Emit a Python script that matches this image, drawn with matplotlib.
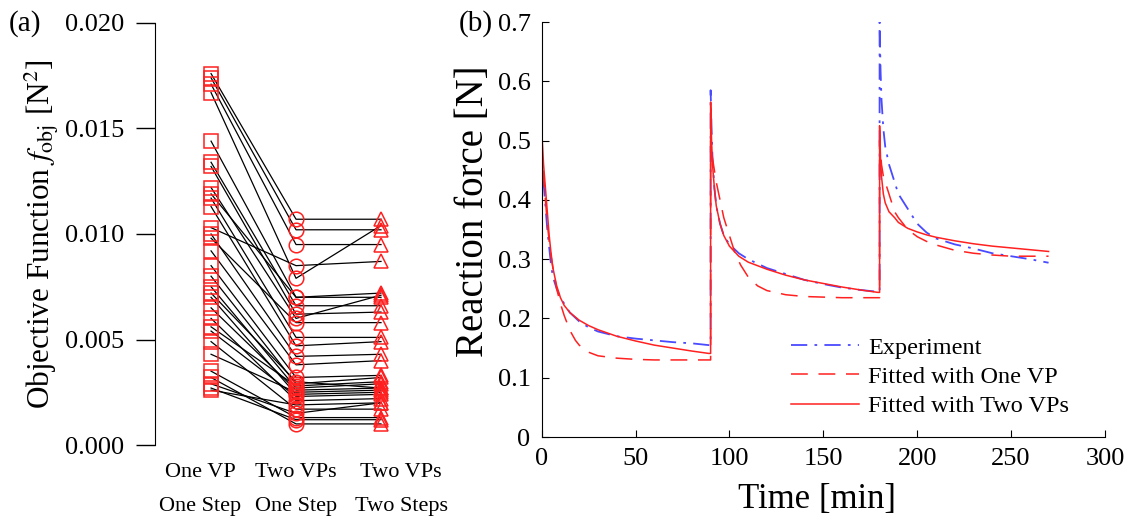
import numpy as np
import matplotlib.pyplot as plt
from matplotlib.transforms import ScaledTranslation

plt.rcParams['font.family'] = ['Liberation Serif', 'DejaVu Serif']
plt.rcParams['mathtext.fontset'] = 'stix'

# (a) objective function of each specimen for the three fitting schemes
cases = ['One VP\nOne Step', 'Two VPs\nOne Step', 'Two VPs\nTwo Steps']
one_vp_one_step = [0.0176, 0.0174, 0.0171, 0.0167, 0.0144, 0.0134, 0.0132, 0.0122,
                   0.0119, 0.0117, 0.0113, 0.0103, 0.0100, 0.0098, 0.0092, 0.0085,
                   0.0080, 0.0075, 0.0072, 0.0070, 0.0065, 0.0060, 0.0056, 0.0054,
                   0.0049, 0.0043, 0.0035, 0.0032, 0.0029, 0.0027, 0.0026]
two_vps_one_step = [0.0107, 0.0102, 0.0095, 0.0079, 0.0070, 0.0066, 0.0062, 0.0060,
                    0.0070, 0.0051, 0.0047, 0.0085, 0.0042, 0.0058, 0.0038, 0.0032,
                    0.0029, 0.0027, 0.0030, 0.0024, 0.0026, 0.0021, 0.0028, 0.0023,
                    0.0017, 0.0025, 0.0013, 0.0010, 0.0015, 0.0012, 0.0019]
two_vps_two_steps = [0.0107, 0.0102, 0.0095, 0.0104, 0.0070, 0.0066, 0.0063, 0.0071,
                     0.0072, 0.0051, 0.0049, 0.0087, 0.0043, 0.0058, 0.0040, 0.0033,
                     0.0032, 0.0029, 0.0027, 0.0025, 0.0027, 0.0022, 0.0030, 0.0024,
                     0.0017, 0.0026, 0.0013, 0.0010, 0.0020, 0.0012, 0.0020]

# (b) reaction force histories
exp_t = [0, 0, 0.5, 1, 2, 3, 4, 5, 6, 8, 10, 12, 15, 20, 25, 30, 40, 50, 60, 70, 80, 89,
         90, 90, 90.5, 91, 92, 93, 95, 97, 100, 105, 110, 120, 130, 140, 150, 160, 170, 179,
         180, 180, 180.5, 181, 182, 183, 185, 188, 190, 195, 200, 205, 210, 220, 230, 240,
         250, 260, 270]
exp_f = [0, 0.47, 0.45, 0.43, 0.39, 0.35, 0.32, 0.29, 0.27, 0.25, 0.235, 0.225, 0.21,
         0.195, 0.185, 0.178, 0.170, 0.166, 0.163, 0.160, 0.158, 0.155,
         0.155, 0.585, 0.52, 0.47, 0.42, 0.39, 0.36, 0.34, 0.325, 0.31, 0.30, 0.285, 0.275,
         0.265, 0.258, 0.252, 0.248, 0.245,
         0.245, 0.70, 0.62, 0.57, 0.52, 0.49, 0.46, 0.43, 0.41, 0.385, 0.36, 0.345, 0.335,
         0.325, 0.318, 0.31, 0.305, 0.30, 0.294]

one_t = [0, 0, 1, 2, 3, 4, 5, 6, 8, 10, 12, 15, 18, 20, 25, 30, 40, 50, 60, 70, 80, 89,
         90, 90, 91, 92, 93, 95, 97, 100, 103, 106, 110, 115, 120, 130, 140, 150, 160, 170,
         179, 180, 180, 181, 182, 183, 185, 188, 190, 195, 200, 205, 210, 220, 230, 240,
         250, 260, 270]
one_f = [0, 0.48, 0.44, 0.40, 0.36, 0.33, 0.305, 0.285, 0.25, 0.225, 0.205, 0.18, 0.163,
         0.155, 0.143, 0.137, 0.133, 0.131, 0.130, 0.130, 0.130, 0.130,
         0.130, 0.50, 0.47, 0.45, 0.43, 0.40, 0.37, 0.34, 0.31, 0.29, 0.27, 0.255, 0.247,
         0.24, 0.237, 0.236, 0.235, 0.235, 0.235,
         0.235, 0.50, 0.46, 0.44, 0.43, 0.41, 0.38, 0.37, 0.35, 0.338, 0.33, 0.324, 0.315,
         0.31, 0.307, 0.305, 0.305, 0.305]

two_t = exp_t
two_f = [0, 0.52, 0.49, 0.46, 0.42, 0.38, 0.34, 0.31, 0.285, 0.255, 0.235, 0.222, 0.21,
         0.197, 0.188, 0.181, 0.170, 0.162, 0.155, 0.150, 0.145, 0.141,
         0.141, 0.565, 0.50, 0.46, 0.42, 0.39, 0.36, 0.34, 0.322, 0.305, 0.295, 0.283, 0.273,
         0.265, 0.259, 0.253, 0.248, 0.244,
         0.244, 0.525, 0.47, 0.44, 0.41, 0.395, 0.38, 0.37, 0.362, 0.352, 0.346, 0.341,
         0.337, 0.331, 0.326, 0.322, 0.319, 0.316, 0.313]

fig = plt.figure(figsize=(11.28, 5.2), dpi=100)

# ---- panel (a)
ax1 = fig.add_axes([0.1374, 0.1442, 0.2305, 0.8116])
pos = [1, 2, 3]
for a, b, c in zip(one_vp_one_step, two_vps_one_step, two_vps_two_steps):
    ax1.plot(pos, [a, b, c], 'k-', lw=0.9, zorder=1)
red = '#ff2020'
ax1.plot([1] * len(one_vp_one_step), one_vp_one_step, 's', ms=10, mfc='none',
         mec=red, mew=1.1, ls='none', zorder=2)
ax1.plot([2] * len(two_vps_one_step), two_vps_one_step, 'o', ms=10.5, mfc='none',
         mec=red, mew=1.1, ls='none', zorder=2)
ax1.plot([3] * len(two_vps_two_steps), two_vps_two_steps, '^', ms=10.5, mfc='none',
         mec=red, mew=1.1, ls='none', zorder=2)
ax1.set_xlim(0.34, 3.4)
ax1.set_ylim(0, 0.02)
ax1.set_yticks([0, 0.005, 0.010, 0.015, 0.020])
ax1.set_yticklabels(['0.000', '0.005', '0.010', '0.015', '0.020'])
ax1.set_xticks(pos)
ax1.set_xticklabels(cases, linespacing=2.1)
ax1.tick_params(axis='x', length=0, pad=13, labelsize=16)
ax1.tick_params(axis='y', direction='out', length=14, width=1, labelsize=19, pad=8)
# the category labels sit a little off the marker columns
shifts = [-11, 0, 20]
for lab, dx in zip(ax1.get_xticklabels(), shifts):
    lab.set_transform(lab.get_transform() + ScaledTranslation(dx / 100, 0, fig.dpi_scale_trans))
for s in ['top', 'right', 'bottom']:
    ax1.spines[s].set_visible(False)
ax1.set_ylabel(r'Objective Function $f_{\rm obj}$ [N$^2$]', fontsize=22.5, labelpad=3)
fig.text(0.008, 0.955, '(a)', fontsize=21, va='center')

# ---- panel (b)
ax2 = fig.add_axes([0.4802, 0.1596, 0.4993, 0.798])
ax2.plot(exp_t, exp_f, color='#4a4aff', lw=1.3, ls=(0, (9, 4, 1.5, 4)), label='Experiment')
ax2.plot(one_t, one_f, color=red, lw=1.1, ls=(0, (11, 7)), label='Fitted with One VP')
ax2.plot(two_t, two_f, color=red, lw=1.1, ls='-', label='Fitted with Two VPs')
ax2.set_xlim(0, 300)
ax2.set_ylim(0, 0.7)
ax2.set_xticks([0, 50, 100, 150, 200, 250, 300])
ax2.set_yticks([0, 0.1, 0.2, 0.3, 0.4, 0.5, 0.6, 0.7])
ax2.set_yticklabels(['0', '0.1', '0.2', '0.3', '0.4', '0.5', '0.6', '0.7'])
ax2.tick_params(direction='in', length=5, width=0.8, labelsize=19, pad=8)
for s in ['top', 'right']:
    ax2.spines[s].set_visible(False)
ax2.set_xlabel('Time [min]', fontsize=25)
ax2.xaxis.set_label_coords(0.488, -0.112)
ax2.set_ylabel('Reaction force [N]', fontsize=28)
ax2.yaxis.set_label_coords(-0.088, 0.545)
ax2.legend(loc='lower right', bbox_to_anchor=(0.975, -0.005), frameon=False, fontsize=17.5,
           handlelength=2.8, handletextpad=0.35, labelspacing=0.3)
fig.text(0.407, 0.955, '(b)', fontsize=21, va='center')

fig.savefig('out.png', dpi=100)
